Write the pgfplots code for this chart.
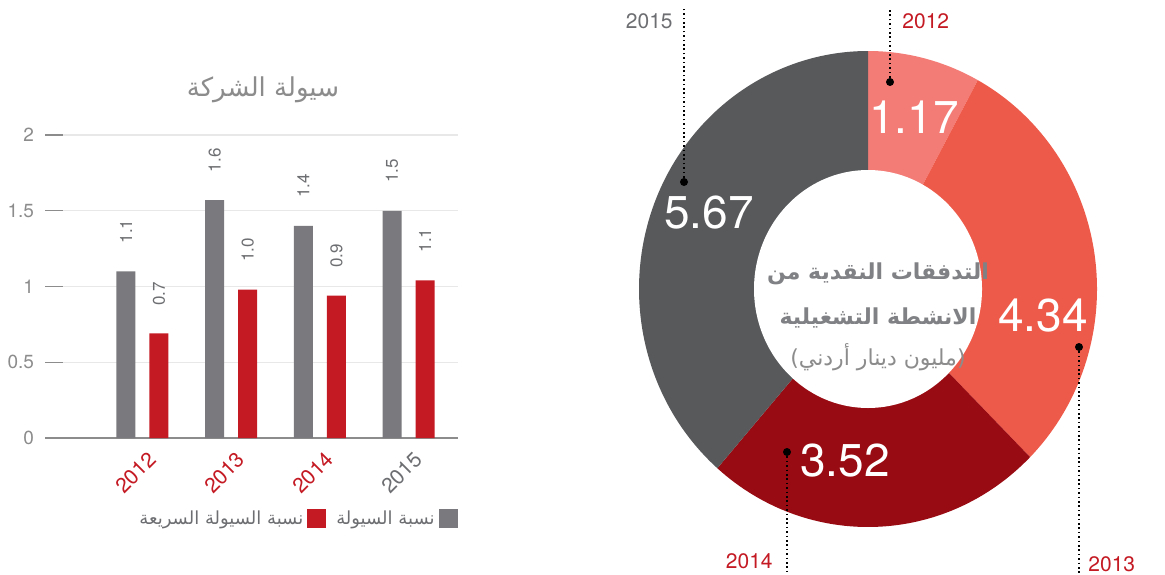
\documentclass[border=0pt]{standalone}
\usepackage{fontspec}
\setmainfont{TeX Gyre Heros}
\newfontfamily\arabicfont[Script=Arabic]{DejaVu Sans}
\TeXXeTstate=1
\usepackage{pgfplots}
\usepackage{pgfplotstable}
\pgfplotsset{compat=1.18}

\definecolor{barGray}{HTML}{7A7A7E}
\definecolor{barRed}{HTML}{C41A24}
\definecolor{gridGray}{HTML}{E8E8E8}
\definecolor{txtGray}{HTML}{6D6E71}
\definecolor{tickGray}{HTML}{8C8C8C}
\definecolor{c12}{HTML}{F47C77}
\definecolor{c13}{HTML}{EE5A4A}
\definecolor{c14}{HTML}{990B12}
\definecolor{c15}{HTML}{58595B}
\definecolor{centerGray}{HTML}{808184}

% operating cash flow, million JOD
\pgfplotstableread{
year value
2012 1.17
2013 4.34
2014 3.52
2015 5.67
}\flowdata

\begin{document}%
\pgfplotstablegetelem{0}{value}\of\flowdata\let\vA\pgfplotsretval%
\pgfplotstablegetelem{1}{value}\of\flowdata\let\vB\pgfplotsretval%
\pgfplotstablegetelem{2}{value}\of\flowdata\let\vC\pgfplotsretval%
\pgfplotstablegetelem{3}{value}\of\flowdata\let\vD\pgfplotsretval%
\pgfmathsetmacro\tot{\vA+\vB+\vC+\vD}%
\pgfmathsetmacro\aA{90}%
\pgfmathsetmacro\aB{\aA-360*\vA/\tot}%
\pgfmathsetmacro\aC{\aB-360*\vB/\tot}%
\pgfmathsetmacro\aD{\aC-360*\vC/\tot}%
\pgfmathsetmacro\aE{\aD-360*\vD/\tot}%
\begin{tikzpicture}
% donut + annotations, one axis unit = one pixel of the reference
\begin{axis}[
  at={(0pt,0pt)}, anchor=south west,
  x=0.5pt, y=0.5pt,
  xmin=0, xmax=1165, ymin=0, ymax=574,
  hide axis, clip=false,
]
\path (axis cs:0,0) rectangle (axis cs:1165,574);
\fill[c12] (axis cs:868,285) -- ++(\aA:114.5pt and 119pt) arc[start angle=\aA, end angle=\aB, x radius=114.5pt, y radius=119pt] -- cycle;
\fill[c13] (axis cs:868,285) -- ++(\aB:114.5pt and 119pt) arc[start angle=\aB, end angle=\aC, x radius=114.5pt, y radius=119pt] -- cycle;
\fill[c14] (axis cs:868,285) -- ++(\aC:114.5pt and 119pt) arc[start angle=\aC, end angle=\aD, x radius=114.5pt, y radius=119pt] -- cycle;
\fill[c15] (axis cs:868,285) -- ++(\aD:114.5pt and 119pt) arc[start angle=\aD, end angle=\aE, x radius=114.5pt, y radius=119pt] -- cycle;
\fill[white] (axis cs:868,285) ellipse[x radius=57pt, y radius=59.5pt];

\begin{scope}[every node/.style={text=white, font=\fontsize{23}{23}\selectfont, inner sep=0pt}]
\node at (axis cs:914,457) {1.17};
\node at (axis cs:1043,258) {4.34};
\node at (axis cs:845,113) {3.52};
\node at (axis cs:709,361) {5.67};
\end{scope}

\begin{scope}[every path/.style={black, line width=0.8pt, dash pattern=on 0.8pt off 1.4pt}]
\draw (axis cs:890,492) -- (axis cs:890,566);
\draw (axis cs:684,392) -- (axis cs:684,566);
\draw (axis cs:1079,227) -- (axis cs:1079,0);
\draw (axis cs:787,122) -- (axis cs:787,0);
\end{scope}
\fill[black] (axis cs:890,492) circle[radius=2pt];
\fill[black] (axis cs:684,392) circle[radius=2pt];
\fill[black] (axis cs:1079,227) circle[radius=2pt];
\fill[black] (axis cs:787,122) circle[radius=2pt];

\begin{scope}[every node/.style={font=\fontsize{10.5}{11}\selectfont, inner sep=0pt}]
\node[anchor=west, text=barRed] at (axis cs:902,553) {2012};
\node[anchor=east, text=txtGray] at (axis cs:673,553) {2015};
\node[anchor=west, text=barRed] at (axis cs:1088,10) {2013};
\node[anchor=east, text=barRed] at (axis cs:773,13) {2014};
\end{scope}

\node[text=centerGray, font=\arabicfont\bfseries\fontsize{11}{12}\selectfont] at (axis cs:878,300) {\beginR التدفقات النقدية من\endR};
\node[text=centerGray, font=\arabicfont\bfseries\fontsize{11}{12}\selectfont] at (axis cs:878,256) {\beginR الانشطة التشغيلية\endR};
\node[text=tickGray, font=\arabicfont\fontsize{11}{12}\selectfont] at (axis cs:878,217) {)\beginR مليون دينار أردني\endR(};

\node[text=tickGray, font=\arabicfont\fontsize{13}{14}\selectfont] at (axis cs:263,484) {\beginR سيولة الشركة\endR};
\end{axis}

% liquidity ratios
\begin{axis}[
  at={(31.5pt,68pt)}, anchor=south west,
  x=44.35pt, y=75.75pt,
  xmin=-0.896, xmax=3.557, ymin=0, ymax=2,
  enlargelimits=false,
  ybar, bar width=9.5pt,
  axis x line*=bottom, axis y line*=left,
  x axis line style={draw=tickGray, line width=1pt},
  y axis line style={draw=none},
  xtick={0,1,2,3},
  xticklabels={\textcolor{barRed}{2012},\textcolor{barRed}{2013},\textcolor{barRed}{2014},\textcolor{txtGray}{2015}},
  xtick style={draw=none},
  xticklabel style={xshift=5pt, yshift=0pt, rotate=45, anchor=east, inner sep=0pt, font=\fontsize{10.5}{11}\selectfont},
  ytick={0.5,1,1.5,2},
  extra y ticks={0},
  extra y tick style={tick style={draw=none}, grid=none},
  ytick style={draw=tickGray, line width=0.6pt},
  tick align=outside, major tick length=9pt,
  yticklabel style={text=tickGray, font=\fontsize{9.5}{10}\selectfont, xshift=-2pt},
  /pgf/number format/assume math mode=true,
  ymajorgrids, grid style={draw=gridGray, line width=0.6pt},
  nodes near coords, point meta=explicit symbolic,
  nodes near coords style={rotate=90, anchor=west, inner sep=0pt, outer xsep=14pt, text=txtGray, font=\fontsize{8.5}{10}\selectfont},
  clip=false,
  legend columns=2, reverse legend, legend plot pos=right,
  legend image code/.code={\fill[#1,/tikz/.cd,bar shift=0pt] (0pt,-4.75pt) rectangle (9.5pt,4.75pt);},
  legend style={draw=none, fill=none, at={(1,-0.267)}, anchor=east, inner sep=0pt,
    font=\arabicfont\fontsize{9}{10}\selectfont, text=txtGray,
    /tikz/every even column/.append style={column sep=3pt}},
]
\addplot[fill=barGray, draw=none, bar shift=-8.25pt] coordinates {
  (0,1.10) [1.1] (1,1.57) [1.6] (2,1.40) [1.4] (3,1.50) [1.5]
};
\addlegendentry{\beginR نسبة السيولة\endR}
\addplot[fill=barRed, draw=none, bar shift=8.25pt] coordinates {
  (0,0.69) [0.7] (1,0.98) [1.0] (2,0.94) [0.9] (3,1.04) [1.1]
};
\addlegendentry{\beginR نسبة السيولة السريعة\endR}
\end{axis}
\end{tikzpicture}%
\end{document}
